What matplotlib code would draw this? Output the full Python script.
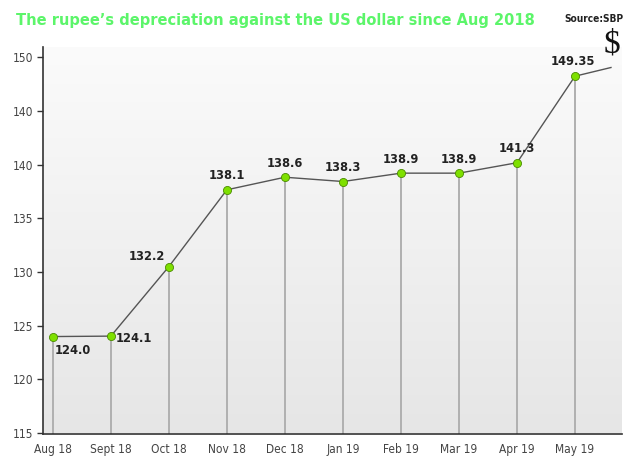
import matplotlib
matplotlib.use("Agg")
import matplotlib.pyplot as plt
import numpy as np
from matplotlib import font_manager
from matplotlib.font_manager import FontProperties
from matplotlib.textpath import TextPath

# ---- data ----
months = ["Aug 18", "Sept 18", "Oct 18", "Nov 18", "Dec 18", "Jan 19",
          "Feb 19", "Mar 19", "Apr 19", "May 19"]
# plotted marker heights as drawn in the graphic
rates = [123.98, 124.02, 130.5, 137.65, 138.82, 138.42, 139.2, 139.2, 140.17, 148.23]
value_labels = ["124.0", "124.1", "132.2", "138.1", "138.6", "138.3",
                "138.9", "138.9", "141.3", "149.35"]
tail_x = 9.62
tail_y = 149.04
yticks = [115, 120, 125, 130, 135, 140, 145, 150]
ytick_labels = ["115", "120", "125", "130", "135", "140", "140", "150"]

TITLE = "The rupee\u2019s depreciation against the US dollar since Aug 2018"


# ---- pick a condensed font if one exists, else Roboto ----
def find_font(bold):
    best = None
    for f in font_manager.fontManager.ttflist:
        nm = (f.name + " " + f.fname).lower()
        if not ('condensed' in nm or 'narrow' in nm):
            continue
        if 'serif' in f.name.lower() and 'sans' not in f.name.lower():
            continue
        if 'mono' in nm or 'italic' in nm or 'oblique' in nm or f.style != 'normal':
            continue
        w = f.weight if isinstance(f.weight, int) else {'bold': 700, 'normal': 400}.get(str(f.weight), 400)
        score = abs(w - (700 if bold else 400))
        if best is None or score < best[0]:
            best = (score, f.fname)
    if best is not None:
        return FontProperties(fname=best[1])
    return FontProperties(family='Roboto', weight='bold' if bold else 'normal')


fp_reg = find_font(False)
fp_bold = find_font(True)


def width_px(s, fp, size):
    tp = TextPath((0, 0), s, size=size, prop=fp)
    return tp.get_extents().width * 100 / 72


def fit(s, fp, target_px, max_size):
    w = width_px(s, fp, 10)
    return min(max_size, 10 * target_px / w)


title_size = fit(TITLE, fp_bold, 515, 16)
label_size = fit("149.35", fp_bold, 42, 10.5)
src_size = fit("Source:SBP", fp_bold, 58, 9)
tick_size = fit("Sept 18", fp_reg, 40, 10)

fig = plt.figure(figsize=(6.4, 4.72), dpi=100)
ax = fig.add_axes([43/640, 1-433.5/472, (622-43)/640, (433.5-47)/472])

x = np.arange(len(months))
ax.set_xlim(-0.17, 9.81)
ax.set_ylim(114.95, 150.95)

# gradient background
grad = np.linspace(0, 1, 256).reshape(-1, 1)
ax.imshow(grad, extent=[-0.17, 9.81, 114.95, 150.95], aspect='auto',
          cmap=matplotlib.colors.LinearSegmentedColormap.from_list('g', ['#e6e6e6', '#fbfbfb']),
          origin='lower', zorder=0)

# drop lines
ax.vlines(x, 114.95, rates, color='#b0b0b0', lw=1.4, zorder=1)
# connecting line
ax.plot(list(x) + [tail_x], rates + [tail_y], color='#555555', lw=1.0, zorder=2)
ax.scatter(x, rates, s=34, color='#7ee000', edgecolor='#4a8a00', linewidth=0.6, zorder=3)

offsets = [(20, -14), (23, -2), (-22, 10), (0, 14), (0, 14), (0, 14),
           (0, 14), (0, 14), (0, 14), (-2, 15)]
for xi, yi, lab, off in zip(x, rates, value_labels, offsets):
    ax.annotate(lab, (xi, yi), xytext=off, textcoords='offset pixels',
                ha='center', va='center', fontproperties=fp_bold,
                fontsize=label_size, color='#222222')

ax.set_xticks(x)
ax.set_xticklabels(months, fontproperties=fp_reg, fontsize=tick_size)
ax.set_yticks(yticks)
ax.set_yticklabels(ytick_labels, fontproperties=fp_reg, fontsize=tick_size)
ax.tick_params(axis='x', length=0, pad=7, labelcolor='#444444')
ax.tick_params(axis='y', length=4, width=1, color='#333333', pad=3,
               labelcolor='#444444')

for s in ['top', 'right']:
    ax.spines[s].set_visible(False)
for s in ['left', 'bottom']:
    ax.spines[s].set_color('#333333')
    ax.spines[s].set_linewidth(1.2)

fig.text(275/640, 1-20/472, TITLE, ha='center', va='center',
         fontproperties=fp_bold, fontsize=title_size, color='#5cf56a')
fig.text(594/640, 1-19/472, "Source:SBP", ha='center', va='center',
         fontproperties=fp_bold, fontsize=src_size, color='#222222')
fig.text(612/640, 1-44/472, "$", ha='center', va='center', fontsize=24,
         family='Liberation Serif', color='#111111')

fig.savefig("out.png", dpi=100)
